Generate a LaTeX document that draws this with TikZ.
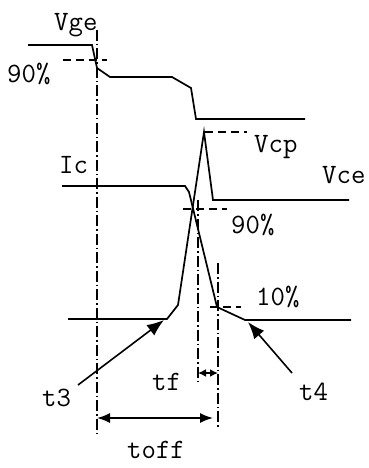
\documentclass[tikz,border=0pt]{standalone}
\usetikzlibrary{arrows.meta}
\tikzset{
  wave/.style={draw=black,line width=1.7pt,line join=miter},
  guide line/.style={draw=black,line width=1.5pt,dash pattern=on 11pt off 3pt on 1.5pt off 3pt},
  level line/.style={draw=black,line width=1.5pt,dash pattern=on 8pt off 5pt},
  pointer/.style={-{Latex[length=17pt,width=13pt]},draw=black,line width=1.6pt},
  span/.style={{Latex[length=13pt,width=10pt]}-{Latex[length=13pt,width=10pt]},draw=black,line width=1.6pt},
  small span/.style={{Latex[length=8pt,width=8pt]}-{Latex[length=8pt,width=8pt]},draw=black,line width=1.6pt},
  wave label/.style={anchor=base west,inner sep=0pt,font=\fontsize{28}{30}\selectfont\ttfamily}
}
\begin{document}
\begin{tikzpicture}[x=1pt,y=-1pt]
  \useasboundingbox (0,0) rectangle (368,468);

  % waveforms
  \draw[wave] (28,45) -- (92,45) -- (97,68) -- (110,77) -- (172,77) -- (191,88) -- (196,119) -- (305,119);
  \draw[wave] (62,186) -- (185,186) -- (189,192) -- (217,307) -- (245,320) -- (351,320);
  \draw[wave] (68,319) -- (167,319) -- (178,305) -- (204,132) -- (213,200) -- (349,200);

  % reference levels
  \draw[level line] (63,60) -- (107,60);
  \draw[level line] (205,132) -- (247,132);
  \draw[level line] (183,209) -- (227,209);
  \draw[level line] (210,307) -- (241,307);

  % time marks
  \coordinate (g1top) at (97,30);
  \coordinate (g1bot) at (97,433);
  \coordinate (g2top) at (198,200);
  \coordinate (g2bot) at (198,385);
  \coordinate (g3top) at (218,263);
  \coordinate (g3bot) at (218,428);
  \draw[guide line] (g1top) -- (g1bot);
  \draw[guide line] (g2top) -- (g2bot);
  \draw[guide line] (g3top) -- (g3bot);

  % labels
  \node[wave label] (vge) at (54,31) {Vge};
  \node[wave label] (p90a) at (7,83) {90\%};
  \node[wave label] (ic) at (59,173) {Ic};
  \node[wave label] (vcp) at (254,152) {Vcp};
  \node[wave label] (vce) at (322,183) {Vce};
  \node[wave label] (p90b) at (231,233) {90\%};
  \node[wave label] (p10) at (256,305) {10\%};
  \node[wave label] (t3) at (42,406) {t3};
  \node[wave label] (tf) at (152,390) {tf};
  \node[wave label] (t4) at (299,400) {t4};
  \node[wave label] (toff) at (127,458) {toff};

  % pointers and spans
  \coordinate (t3tip) at (164,320);
  \coordinate (t4tip) at (248,322);
  \draw[pointer] (78,385) -- (t3tip);
  \draw[pointer] (292,373) -- (t4tip);
  \draw[small span] (198,373) -- (218,373);
  \draw[span] (97,418) -- (213,418);
\end{tikzpicture}
\end{document}
